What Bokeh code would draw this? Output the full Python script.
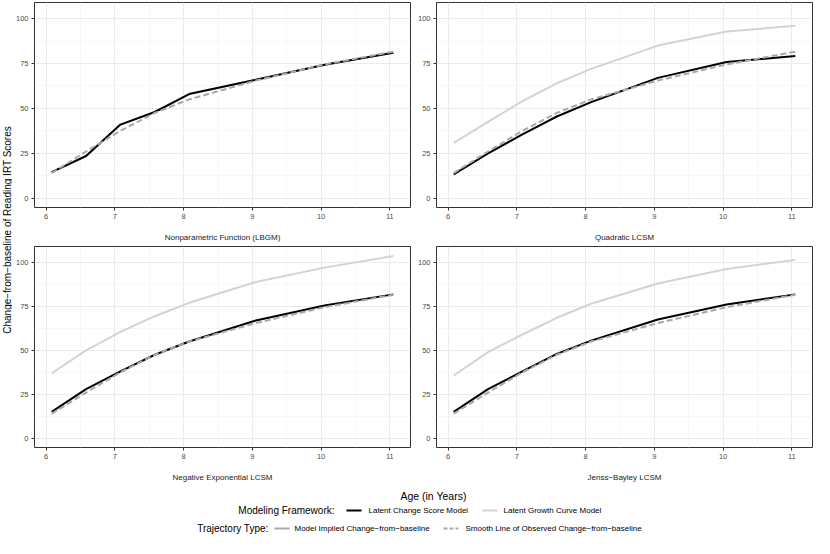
import math
from bokeh.plotting import figure
from bokeh.layouts import row, column, gridplot
from bokeh.models import FixedTicker, Range1d
from bokeh.embed import file_html
from bokeh.resources import INLINE
from bokeh.core.properties import value

# ---------------- data ----------------
age = [6.08, 6.58, 7.08, 7.58, 8.08, 9.05, 10.05, 11.05]
observed_smooth = [14.0, 26.0, 37.5, 47.5, 55.0, 65.5, 74.5, 81.6]

panel_titles = ["Nonparametric Function (LBGM)", "Quadratic LCSM",
                "Negative Exponential LCSM", "Jenss\u2212Bayley LCSM"]

lcsm_lbgm = [14.5, 23.5, 41.0, 48.0, 58.0, 66.0, 74.3, 81.0]
lgcm_lbgm = [14.5, 23.5, 41.0, 48.0, 58.0, 66.0, 74.3, 81.0]
lcsm_quad = [13.2, 25.0, 35.5, 45.5, 53.5, 67.0, 75.8, 79.2]
lgcm_quad = [30.8, 42.5, 54.0, 64.0, 72.0, 85.0, 92.8, 96.0]
lcsm_nexp = [15.0, 28.0, 38.0, 47.5, 55.0, 67.0, 75.5, 81.8]
lgcm_nexp = [37.0, 50.0, 60.5, 69.4, 77.0, 88.8, 97.0, 103.6]
lcsm_jb = [15.0, 28.0, 38.0, 48.0, 55.5, 67.5, 76.0, 81.8]
lgcm_jb = [35.7, 49.0, 59.0, 68.5, 76.5, 88.0, 96.2, 101.4]

x_ticks = [6, 7, 8, 9, 10, 11]
x_minor = [6.5, 7.5, 8.5, 9.5, 10.5]
y_ticks = [0, 25, 50, 75, 100]
y_minor = [12.5, 37.5, 62.5, 87.5]

framework_labels = ["Latent Change Score Model", "Latent Growth Curve Model"]
trajectory_labels = ["Model Implied Change\u2212from\u2212baseline",
                     "Smooth Line of Observed Change\u2212from\u2212baseline"]

# ---------------- style ----------------
FONT = "Liberation Sans"
C_LCSM = "#000000"
C_LGCM = "#d3d3d3"
C_OBS = "#a9a9a9"
DASH = "6 3"
FRAME_W = 376
FRAME_H = 207
TOP_BOTTOM = 35
BOT_BOTTOM = 31


def make_panel(title, lcsm, lgcm, left, right, top, bottom):
    p = figure(width=left + FRAME_W + right, height=top + FRAME_H + bottom,
               x_range=Range1d(5.83, 11.3), y_range=Range1d(-5.2, 109.0),
               output_backend="svg", toolbar_location=None,
               min_border_left=left, min_border_right=right,
               min_border_top=top, min_border_bottom=bottom)
    xt = FixedTicker(ticks=x_ticks, minor_ticks=x_minor)
    yt = FixedTicker(ticks=y_ticks, minor_ticks=y_minor)
    p.xaxis.ticker = xt
    p.yaxis.ticker = yt
    p.xgrid.ticker = xt
    p.ygrid.ticker = yt
    for g in (p.xgrid, p.ygrid):
        g.grid_line_color = "#ebebeb"
        g.grid_line_width = 1
        g.minor_grid_line_color = "#f3f3f3"
        g.minor_grid_line_width = 0.7
    for ax in (p.xaxis, p.yaxis):
        ax.axis_line_color = None
        ax.major_tick_line_color = "#333333"
        ax.major_tick_in = 0
        ax.major_tick_out = 3
        ax.minor_tick_line_color = None
        ax.major_label_text_font = FONT
        ax.major_label_text_font_size = "7.5px"
        ax.major_label_text_color = "#4d4d4d"
        ax.major_label_standoff = 2
    p.xaxis.axis_label = title
    p.xaxis.axis_label_text_font = FONT
    p.xaxis.axis_label_text_font_size = "8px"
    p.xaxis.axis_label_text_font_style = "normal"
    p.xaxis.axis_label_text_color = "#1a1a1a"
    p.xaxis.axis_label_standoff = 11
    p.outline_line_color = "#333333"
    p.outline_line_width = 1
    p.line(age, lgcm, line_color=C_LGCM, line_width=2)
    p.line(age, lcsm, line_color=C_LCSM, line_width=2)
    p.line(age, observed_smooth, line_color=C_OBS, line_width=2, line_dash=DASH)
    return p


tl = make_panel(panel_titles[0], lcsm_lbgm, lgcm_lbgm, 22, 4, 2, TOP_BOTTOM)
tr = make_panel(panel_titles[1], lcsm_quad, lgcm_quad, 22, 2, 2, TOP_BOTTOM)
bl = make_panel(panel_titles[2], lcsm_nexp, lgcm_nexp, 22, 4, 2, BOT_BOTTOM)
br = make_panel(panel_titles[3], lcsm_jb, lgcm_jb, 22, 2, 2, BOT_BOTTOM)

grid = gridplot([[tl, tr], [bl, br]], toolbar_location=None)

GRID_H = (2 + FRAME_H + TOP_BOTTOM) + (2 + FRAME_H + BOT_BOTTOM)

# y-axis label
ylab = figure(width=12, height=GRID_H, x_range=Range1d(0, 1), y_range=Range1d(GRID_H, 0),
              output_backend="svg", toolbar_location=None,
              min_border_left=0, min_border_right=0, min_border_top=0, min_border_bottom=0)
ylab.axis.visible = False
ylab.grid.visible = False
ylab.outline_line_color = None
ylab.text(x=[0.55], y=[GRID_H * 0.474], text=["Change\u2212from\u2212baseline of Reading IRT Scores"],
          angle=math.pi / 2, text_align="center", text_baseline="middle",
          text_font=value(FONT), text_font_size=value("10px"), text_color="#000000")

# bottom: x title and legends
LEG_W = 814
LEG_H = 538 - GRID_H
leg = figure(width=LEG_W, height=LEG_H, x_range=Range1d(0, LEG_W), y_range=Range1d(LEG_H, 0),
             output_backend="svg", toolbar_location=None,
             min_border_left=0, min_border_right=0, min_border_top=0, min_border_bottom=0)
leg.axis.visible = False
leg.grid.visible = False
leg.outline_line_color = None

leg.text(x=[433], y=[11], text=["Age (in Years)"], text_align="center", text_baseline="middle",
         text_font=value(FONT), text_font_size=value("10.5px"), text_color="#000000")

r1 = 26
r2 = 44
leg.text(x=[334], y=[r1], text=["Modeling Framework:"], text_align="right", text_baseline="middle",
         text_font=value(FONT), text_font_size=value("10px"), text_color="#000000")
leg.segment(x0=[346], y0=[r1], x1=[361], y1=[r1], line_color=C_LCSM, line_width=2)
leg.text(x=[368], y=[r1], text=[framework_labels[0]], text_align="left", text_baseline="middle",
         text_font=value(FONT), text_font_size=value("8px"), text_color="#000000")
leg.segment(x0=[482], y0=[r1], x1=[497], y1=[r1], line_color=C_LGCM, line_width=2)
leg.text(x=[503], y=[r1], text=[framework_labels[1]], text_align="left", text_baseline="middle",
         text_font=value(FONT), text_font_size=value("8px"), text_color="#000000")

leg.text(x=[268], y=[r2], text=["Trajectory Type:"], text_align="right", text_baseline="middle",
         text_font=value(FONT), text_font_size=value("10px"), text_color="#000000")
leg.segment(x0=[274], y0=[r2], x1=[289], y1=[r2], line_color=C_OBS, line_width=2)
leg.text(x=[294], y=[r2], text=[trajectory_labels[0]], text_align="left", text_baseline="middle",
         text_font=value(FONT), text_font_size=value("8px"), text_color="#000000")
leg.segment(x0=[443], y0=[r2], x1=[458], y1=[r2], line_color=C_OBS, line_width=2, line_dash="4 2")
leg.text(x=[465], y=[r2], text=[trajectory_labels[1]], text_align="left", text_baseline="middle",
         text_font=value(FONT), text_font_size=value("8px"), text_color="#000000")

layout = column(row(ylab, grid), leg)

open("out.html", "w").write(file_html(layout, INLINE))
